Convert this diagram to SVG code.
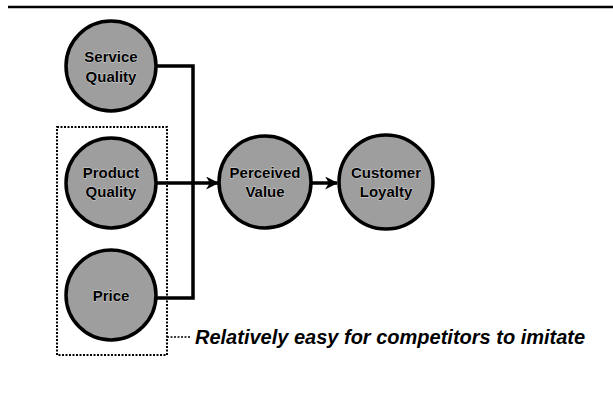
<svg xmlns="http://www.w3.org/2000/svg" width="613" height="399" viewBox="0 0 613 399">
<style>
.node circle{fill:#9e9e9e;stroke:#000;stroke-width:3.5}
.node text{font-family:"Liberation Sans",Arial,sans-serif;font-weight:bold;font-size:15px;fill:#000;text-anchor:middle;stroke:#d8d8d8;stroke-width:0.8;paint-order:stroke}
.conn{fill:none;stroke:#000;stroke-width:3.5}
.lbl{font-family:"Liberation Sans",Arial,sans-serif;font-weight:bold;font-style:italic;font-size:20px;fill:#000}
</style>
<defs>
<marker id="ah" viewBox="0 0 12 12" refX="11" refY="6" markerWidth="13" markerHeight="13" orient="auto" markerUnits="userSpaceOnUse">
<path d="M0,0 L12,6 L0,12 L3.5,6 z" fill="#000"/>
</marker>
</defs>
<line x1="8" y1="7" x2="613" y2="7" stroke="#000" stroke-width="2.5"/>
<rect x="57" y="127" width="110" height="228" fill="none" stroke="#000" stroke-width="2" stroke-dasharray="2,1.5"/>
<g id="connectors">
<polyline class="conn" points="157,66 193,66 193,298 157,298"/>
<line class="conn" x1="157" y1="183" x2="218" y2="183" marker-end="url(#ah)"/>
<line class="conn" x1="310" y1="183" x2="337" y2="183" marker-end="url(#ah)"/>
<line x1="167" y1="337" x2="190" y2="337" stroke="#000" stroke-width="1.5" stroke-dasharray="2,1.5"/>
</g>
<g id="service" class="node"><circle cx="111" cy="66" r="45"/><text x="111" y="62">Service</text><text x="111" y="82">Quality</text></g>
<g id="product" class="node"><circle cx="111" cy="183" r="45"/><text x="111" y="178">Product</text><text x="111" y="197">Quality</text></g>
<g id="price" class="node"><circle cx="111" cy="295" r="45"/><text x="111" y="301">Price</text></g>
<g id="perceived" class="node"><circle cx="265" cy="182" r="46"/><text x="265" y="178">Perceived</text><text x="265" y="197">Value</text></g>
<g id="loyalty" class="node"><circle cx="386" cy="182" r="47"/><text x="386" y="178">Customer</text><text x="386" y="197">Loyalty</text></g>
<text class="lbl" x="195" y="344">Relatively easy for competitors to imitate</text>
</svg>
